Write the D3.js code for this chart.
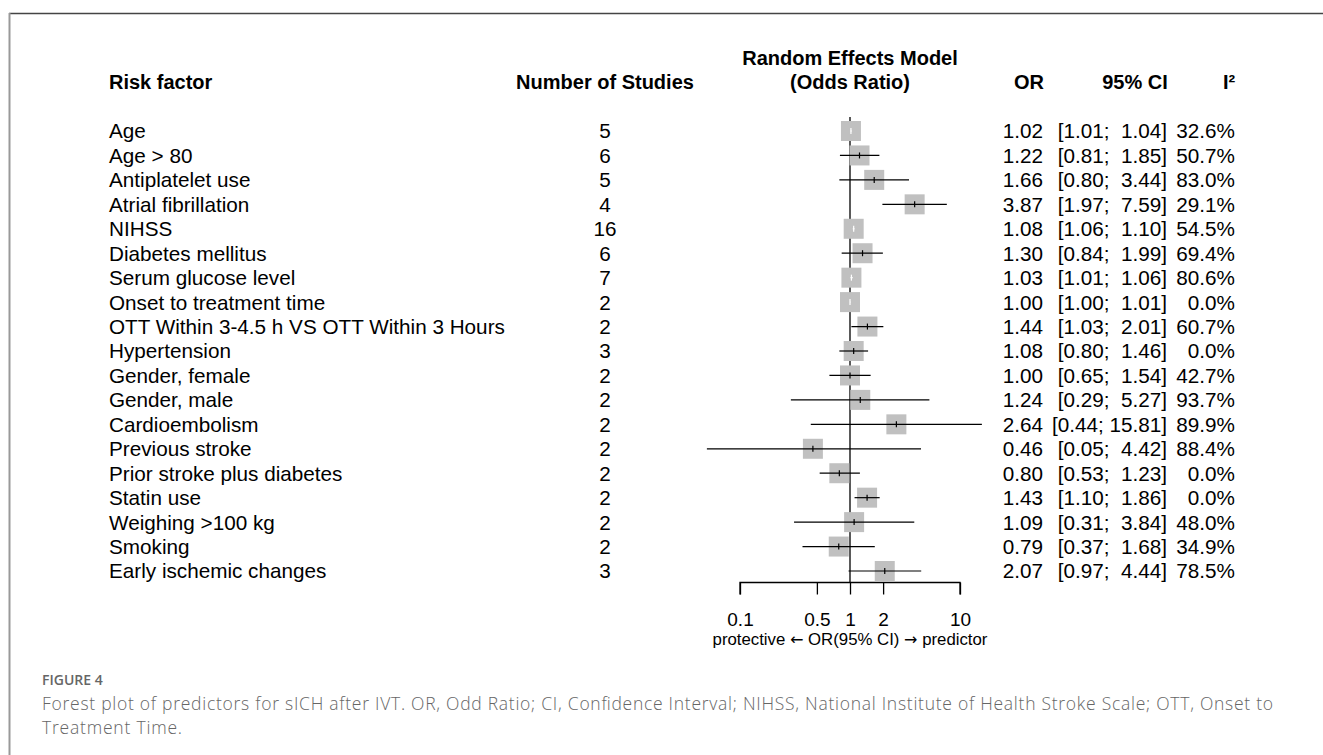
<!DOCTYPE html>
<html>
<head>
<meta charset="utf-8">
<script src="https://cdn.jsdelivr.net/npm/d3@7"></script>
<style>
  html, body { margin: 0; padding: 0; background: #fff; }
  svg text { white-space: pre; }
</style>
</head>
<body>
<div id="chart"></div>
<script>
// risk factors, top to bottom
const factors = [
  'Age', 'Age > 80', 'Antiplatelet use', 'Atrial fibrillation', 'NIHSS',
  'Diabetes mellitus', 'Serum glucose level', 'Onset to treatment time',
  'OTT Within 3-4.5 h VS OTT Within 3 Hours', 'Hypertension', 'Gender, female',
  'Gender, male', 'Cardioembolism', 'Previous stroke', 'Prior stroke plus diabetes',
  'Statin use', 'Weighing >100 kg', 'Smoking', 'Early ischemic changes'
];
const studies = [5, 6, 5, 4, 16, 6, 7, 2, 2, 3, 2, 2, 2, 2, 2, 2, 2, 2, 3];
const orVals = [1.02, 1.22, 1.66, 3.87, 1.08, 1.30, 1.03, 1.00, 1.44, 1.08, 1.00, 1.24, 2.64, 0.46, 0.80, 1.43, 1.09, 0.79, 2.07];
const lower = [1.01, 0.81, 0.80, 1.97, 1.06, 0.84, 1.01, 1.00, 1.03, 0.80, 0.65, 0.29, 0.44, 0.05, 0.53, 1.10, 0.31, 0.37, 0.97];
const upper = [1.04, 1.85, 3.44, 7.59, 1.10, 1.99, 1.06, 1.01, 2.01, 1.46, 1.54, 5.27, 15.81, 4.42, 1.23, 1.86, 3.84, 1.68, 4.44];
const i2 = [32.6, 50.7, 83.0, 29.1, 54.5, 69.4, 80.6, 0.0, 60.7, 0.0, 42.7, 93.7, 89.9, 88.4, 0.0, 0.0, 48.0, 34.9, 78.5];
const tickVals = [0.1, 0.5, 1, 2, 10];

const rows = factors.map((f, i) => ({
  name: f, k: studies[i], or: orVals[i], lo: lower[i], hi: upper[i], i2: i2[i]
}));

const W = 1323, H = 755;
const FONT = '"Liberation Sans", Arial, sans-serif';

const svg = d3.select('#chart').append('svg')
  .attr('width', W).attr('height', H)
  .style('font-family', FONT);

// frame
svg.append('line').attr('x1', 9).attr('x2', W).attr('y1', 13.5).attr('y2', 13.5)
  .attr('stroke', '#444').attr('stroke-width', 1.5);
svg.append('line').attr('x1', 9.5).attr('x2', 9.5).attr('y1', 13).attr('y2', H)
  .attr('stroke', '#999').attr('stroke-width', 2);

const x = d3.scaleLog().domain([0.1, 10]).range([740, 960]);
const y = d3.scalePoint().domain(factors).range([131, 571]);
const axisY = 582.5;
const box = 20;

// headers
const hdr = svg.append('g').attr('font-weight', 'bold').attr('font-size', '20px').attr('fill', '#000');
hdr.append('text').attr('x', 109).attr('y', 89).text('Risk factor');
hdr.append('text').attr('x', 605).attr('y', 89).attr('text-anchor', 'middle').text('Number of Studies');
hdr.append('text').attr('x', 850).attr('y', 65).attr('text-anchor', 'middle').text('Random Effects Model');
hdr.append('text').attr('x', 850).attr('y', 89).attr('text-anchor', 'middle').text('(Odds Ratio)');
hdr.append('text').attr('x', 1044).attr('y', 89).attr('text-anchor', 'end').text('OR');
hdr.append('text').attr('x', 1135).attr('y', 89).attr('text-anchor', 'middle').text('95% CI');
hdr.append('text').attr('x', 1229).attr('y', 89).attr('text-anchor', 'middle').text('I²');

// text columns
const txt = svg.append('g').attr('font-size', '20.7px').attr('fill', '#000');
const rowG = txt.selectAll('g.row').data(rows).join('g').attr('class', 'row')
  .attr('transform', d => `translate(0,${y(d.name)})`);
rowG.append('text').attr('x', 109).attr('dy', '0.36em').text(d => d.name);
rowG.append('text').attr('x', 605).attr('dy', '0.36em').attr('text-anchor', 'middle').text(d => d.k);
rowG.append('text').attr('x', 1043).attr('dy', '0.36em').attr('text-anchor', 'end').text(d => d.or.toFixed(2));
rowG.append('text').attr('x', 1167).attr('dy', '0.36em').attr('text-anchor', 'end')
  .text(d => `[${d.lo.toFixed(2)};${d.hi >= 10 ? ' ' : '  '}${d.hi.toFixed(2)}]`);
rowG.append('text').attr('x', 1235).attr('dy', '0.36em').attr('text-anchor', 'end').text(d => d.i2.toFixed(1) + '%');

// reference line at OR = 1
svg.append('line').attr('x1', x(1)).attr('x2', x(1)).attr('y1', 117).attr('y2', axisY)
  .attr('stroke', '#000').attr('stroke-width', 1.3);

// squares and CIs
const plot = svg.append('g');
const inside = d => x(d.lo) >= x(d.or) - box / 2 && x(d.hi) <= x(d.or) + box / 2;
plot.selectAll('rect').data(rows).join('rect')
  .attr('x', d => x(d.or) - box / 2).attr('y', d => y(d.name) - box / 2)
  .attr('width', box).attr('height', box).attr('fill', '#c0c0c0');
plot.selectAll('line.ci').data(rows).join('line').attr('class', 'ci')
  .attr('x1', d => x(d.lo)).attr('x2', d => x(d.hi))
  .attr('y1', d => y(d.name)).attr('y2', d => y(d.name))
  .attr('stroke', d => inside(d) ? '#fff' : '#000').attr('stroke-width', 1.2);
plot.selectAll('line.est').data(rows).join('line').attr('class', 'est')
  .attr('x1', d => x(d.or)).attr('x2', d => x(d.or))
  .attr('y1', d => y(d.name) - 3).attr('y2', d => y(d.name) + 3)
  .attr('stroke', d => inside(d) ? '#fff' : '#000').attr('stroke-width', 1.2);

// axis
svg.append('g')
  .attr('transform', `translate(0,${axisY})`)
  .call(d3.axisBottom(x).tickValues(tickVals).tickSize(12).tickPadding(18).tickFormat(d => String(d)))
  .call(g => g.select('.domain').attr('d', `M${x(0.1)},12V0H${x(10)}V12`).attr('stroke-width', 1.3))
  .call(g => g.selectAll('.tick line').attr('stroke-width', 1.3))
  .call(g => g.selectAll('text').attr('font-size', '19px').attr('font-family', FONT).attr('fill', '#000'));

const note = svg.append('text').attr('x', 850).attr('y', 645).attr('text-anchor', 'middle')
  .attr('font-size', '16.8px').attr('fill', '#000');
note.append('tspan').text('protective ');
note.append('tspan').style('font-family', '"DejaVu Sans", sans-serif').attr('font-size', '16px').text('\u2190');
note.append('tspan').text(' OR(95% CI) ');
note.append('tspan').style('font-family', '"DejaVu Sans", sans-serif').attr('font-size', '16px').text('\u2192');
note.append('tspan').text(' predictor');

// caption
const cap = svg.append('g').style('font-family', '"Open Sans", sans-serif').attr('fill', '#666');
cap.append('text').attr('x', 42).attr('y', 685).attr('font-size', '14px').attr('font-weight', 600)
  .text('FIGURE 4');
cap.append('text').attr('x', 42).attr('y', 710).attr('font-size', '17.5px').attr('font-weight', 300)
  .attr('textLength', 1231).attr('lengthAdjust', 'spacing')
  .text('Forest plot of predictors for sICH after IVT. OR, Odd Ratio; CI, Confidence Interval; NIHSS, National Institute of Health Stroke Scale; OTT, Onset to');
cap.append('text').attr('x', 42).attr('y', 734).attr('font-size', '17.5px').attr('font-weight', 300)
  .attr('textLength', 140).attr('lengthAdjust', 'spacing')
  .text('Treatment Time.');
</script>
</body>
</html>
